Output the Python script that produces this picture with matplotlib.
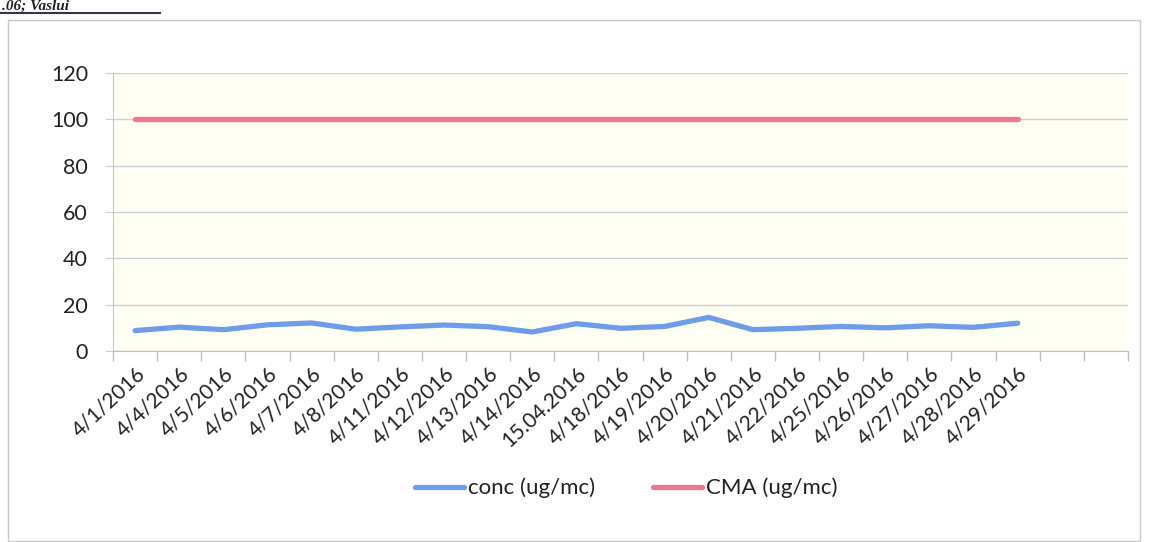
import matplotlib
matplotlib.use("Agg")
import matplotlib.pyplot as plt
from matplotlib.patches import Rectangle
from matplotlib.ticker import FixedLocator

plt.rcParams['font.family'] = ['Lato', 'DejaVu Sans']

# data
dates = ["4/1/2016", "4/4/2016", "4/5/2016", "4/6/2016", "4/7/2016", "4/8/2016",
         "4/11/2016", "4/12/2016", "4/13/2016", "4/14/2016", "15.04.2016",
         "4/18/2016", "4/19/2016", "4/20/2016", "4/21/2016", "4/22/2016",
         "4/25/2016", "4/26/2016", "4/27/2016", "4/28/2016", "4/29/2016", "", ""]
conc = [8.8, 10.3, 9.2, 11.3, 12.1, 9.4, 10.4, 11.2, 10.5, 8.2, 11.8,
        9.8, 10.6, 14.5, 9.2, 9.8, 10.6, 10.0, 10.9, 10.2, 12.0]
cma = [100] * 21

blue = '#6e9ce8'
pink = '#f0758e'

fig = plt.figure(figsize=(11.49, 5.42), dpi=100)
fig.patch.set_facecolor('white')

# outer chart border
fig.patches.append(Rectangle((8 / 1149, 0.002), 1132 / 1149, 1 - 20 / 542 - 0.002,
                             transform=fig.transFigure, fill=False,
                             edgecolor='#c9c9c9', linewidth=1.0))

# heading at the very top of the scan
fig.text(2 / 1149, 1.0, ".06; Vaslui", fontsize=11, fontweight='bold',
         fontstyle='italic', family='Liberation Serif', va='top', ha='left',
         color='#222222')
fig.add_artist(plt.Line2D([0, 160 / 1149], [1 - 13 / 542, 1 - 13 / 542],
                          transform=fig.transFigure, color='#333355', linewidth=1.5))

ax = fig.add_axes([113 / 1149, 1 - 351 / 542, 1015 / 1149, 278 / 542])
ax.set_facecolor('#fffef3')

x = list(range(len(conc)))
ax.plot(x, conc, color=blue, linewidth=3.8, solid_capstyle='round', label='conc (ug/mc)')
ax.plot(x, cma, color=pink, linewidth=3.8, solid_capstyle='round', label='CMA (ug/mc)')

ax.set_xlim(-0.5, len(dates) - 0.5)
ax.set_ylim(0, 120)
ax.set_yticks(range(0, 121, 20))
ax.yaxis.grid(True, color='#cfcfdc', linewidth=1.0)
ax.set_axisbelow(True)

ax.set_xticks(range(len(dates)))
ax.set_xticklabels(dates, rotation=43, ha='right', rotation_mode='anchor', fontsize=15,
                   color='#222222')
ax.xaxis.set_minor_locator(FixedLocator([i - 0.5 for i in range(len(dates) + 1)]))
ax.tick_params(axis='x', which='major', length=0, pad=9)
ax.tick_params(axis='x', which='minor', length=7, color='#bdbdcc', width=1)
ax.tick_params(axis='y', length=6, color='#cfcfdc', labelsize=15.5, labelcolor='#222222',
               pad=12)

for side in ['top', 'right']:
    ax.spines[side].set_visible(False)
ax.spines['left'].set_color('#c4c4d2')
ax.spines['bottom'].set_color('#bdbdcc')

fig.legend(loc='center', bbox_to_anchor=(0.545, 1 - 488 / 542), ncol=2, frameon=False,
           fontsize=16, handlelength=2.2, columnspacing=2.6, handletextpad=0.2,
           labelcolor='#222222')

fig.savefig('out.png', dpi=100)
